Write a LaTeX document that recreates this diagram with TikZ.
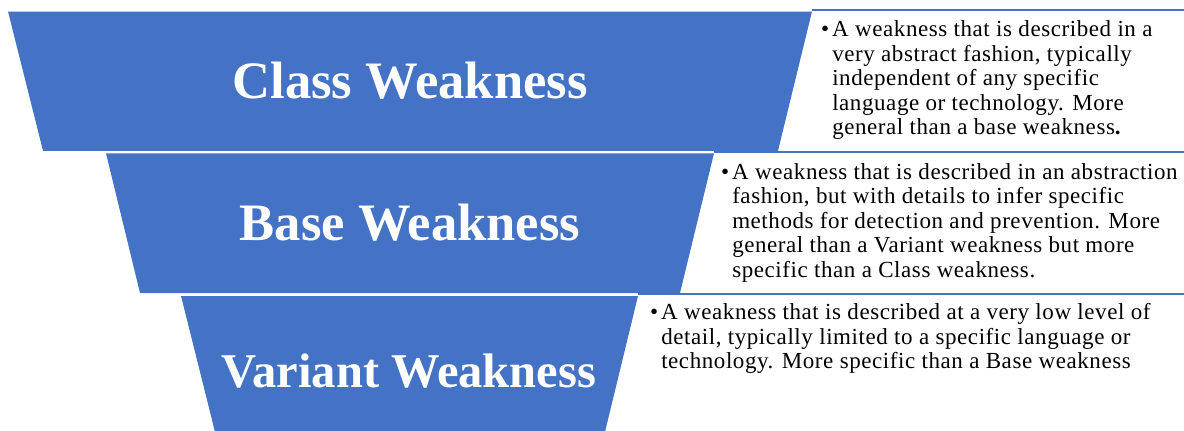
\documentclass[tikz,border=0pt]{standalone}
\usepackage{fontspec}
\setmainfont{Liberation Serif}
\newfontfamily\descfont[LetterSpace=2.5]{Liberation Serif}
\usetikzlibrary{positioning,calc}
\definecolor{tierblue}{HTML}{4472C4}
\newcommand{\itemdot}{\textbullet\hspace{3pt}}
\newcommand{\itempad}{\phantom{\itemdot}}

\begin{document}
\begin{tikzpicture}[x=1pt, y=-1pt]
	\tikzstyle{tier}=[fill=tierblue]
	\tikzstyle{rim}=[draw=tierblue, line width=1.8pt]
	\tikzstyle{tiername}=[text=white, inner sep=0pt, anchor=base, font=\bfseries\fontsize{52.6}{52.6}\selectfont]
	\tikzstyle{desc}=[anchor=north west, align=left, inner sep=0pt, font=\descfont\fontsize{23}{24.5}\selectfont]
	\useasboundingbox (0,0) rectangle (1184,431);
	\coordinate (rightedge) at (1186,0);
	% corners of the three tiers
	\coordinate (classtl) at (8,11.5);
	\coordinate (classtr) at (812,11.5);
	\coordinate (classbr) at (778,150.8);
	\coordinate (classbl) at (43,150.8);
	\coordinate (basetl) at (106,153.3);
	\coordinate (basetr) at (714,153.3);
	\coordinate (basebr) at (680,293);
	\coordinate (basebl) at (140,293);
	\coordinate (varianttl) at (181,296);
	\coordinate (varianttr) at (638,296);
	\coordinate (variantbr) at (604,436);
	\coordinate (variantbl) at (216,436);
	\fill[tier] (classtl) -- (classtr) -- (classbr) -- (classbl) -- cycle;
	\fill[tier] (basetl) -- (basetr) -- (basebr) -- (basebl) -- cycle;
	\fill[tier] (varianttl) -- (varianttr) -- (variantbr) -- (variantbl) -- cycle;
	\draw[rim] ([yshift=1.5pt]classtr) -- ([yshift=1.5pt]classtr -| rightedge);
	\draw[rim] ([yshift=1.3pt]basetr) -- ([yshift=1.3pt]basetr -| rightedge);
	\draw[rim] ([yshift=1.8pt]varianttr) -- ([yshift=1.8pt]varianttr -| rightedge);
	\node[tiername] (classname) at (410,98) {Class Weakness};
	\node[tiername] (basename) at (410,240) {Base Weakness};
	\node[tiername, font=\bfseries\fontsize{48.5}{48.5}\selectfont] (variantname) at (409,387) {Variant Weakness};
	\node[desc] (classdesc) at (821,20.4) {\itemdot A weakness that is described in a\\
		\itempad very abstract fashion, typically\\
		\itempad independent of any specific\\
		\itempad language or technology. More\\
		\itempad general than a base weakness\textbf{.}};
	\node[desc] (basedesc) at (721,163.3) {\itemdot A weakness that is described in an abstraction\\
		\itempad fashion, but with details to infer specific\\
		\itempad methods for detection and prevention. More\\
		\itempad general than a Variant weakness but more\\
		\itempad specific than a Class weakness.};
	\node[desc] (variantdesc) at (650,303.3) {\itemdot A weakness that is described at a very low level of\\
		\itempad detail, typically limited to a specific language or\\
		\itempad technology. More specific than a Base weakness};
\end{tikzpicture}
\end{document}
